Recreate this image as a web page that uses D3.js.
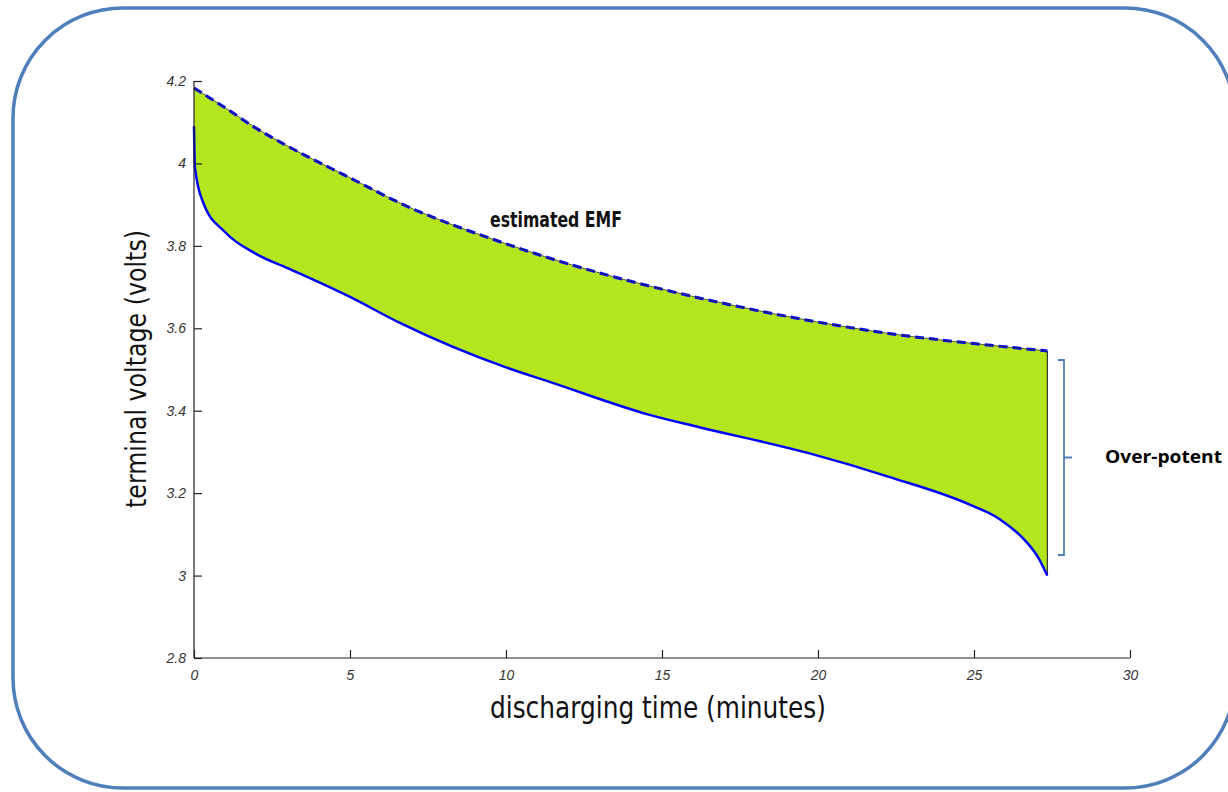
<!DOCTYPE html>
<html>
<head>
  <script src="https://cdnjs.cloudflare.com/ajax/libs/d3/7.8.5/d3.min.js"></script>
  <style>
    body { margin: 0; background: #fff; }
    svg { display: block; }
  </style>
</head>
<body>
  <svg id="chart" width="1228" height="792"></svg>
  <script>
// discharge time (minutes) and voltages
var emfTime = [0, 1, 2, 3, 5, 6.6, 10, 12.5, 15, 17.5, 20, 22.5, 25, 27.35];
var emfVolts = [4.183, 4.135, 4.085, 4.042, 3.965, 3.904, 3.805, 3.745, 3.695, 3.652, 3.615, 3.585, 3.563, 3.545];

var termTime = [0, 0.03, 0.3, 1, 2, 3, 5, 6.6, 10, 11.4, 14.6, 16.2, 19.7, 22.3, 24.9, 25.8, 26.7, 27.05, 27.35];
var termVolts = [4.09, 3.99, 3.904, 3.833, 3.78, 3.746, 3.676, 3.613, 3.505, 3.470, 3.39, 3.36, 3.297, 3.239, 3.171, 3.138, 3.08, 3.045, 3.0];

var xTicks = [0, 5, 10, 15, 20, 25, 30];
var yTicks = [2.8, 3, 3.2, 3.4, 3.6, 3.8, 4, 4.2];

var svg = d3.select("#chart");

// rounded frame
svg.append("rect")
  .attr("x", 13).attr("y", 8)
  .attr("width", 1222).attr("height", 780)
  .attr("rx", 110).attr("ry", 110)
  .attr("fill", "none")
  .attr("stroke", "#4f7fbb")
  .attr("stroke-width", 3.5);

var x = d3.scaleLinear().domain([0, 30]).range([194, 1130]);
var y = d3.scaleLinear().domain([2.8, 4.2]).range([658, 81]);

var emf = emfTime.map((t, i) => [t, emfVolts[i]]);
var term = termTime.map((t, i) => [t, termVolts[i]]);

var line = d3.line()
  .x(d => x(d[0]))
  .y(d => y(d[1]))
  .curve(d3.curveMonotoneX);

// filled band between EMF and terminal voltage
var areaPath = line(emf) + "L" + line(term.slice().reverse()).slice(1) + "Z";
svg.append("path")
  .attr("d", areaPath)
  .attr("fill", "#b5e61d");

// right edge of the band
var last = term[term.length - 1];
svg.append("line")
  .attr("x1", x(last[0])).attr("x2", x(last[0]))
  .attr("y1", y(emf[emf.length - 1][1])).attr("y2", y(last[1]))
  .attr("stroke", "#111").attr("stroke-width", 1);

// terminal voltage line
svg.append("path")
  .attr("d", line(term))
  .attr("fill", "none")
  .attr("stroke", "#0000ff")
  .attr("stroke-width", 2.5);

// estimated EMF: blue dashes under a thin dark line
svg.append("path")
  .attr("d", line(emf))
  .attr("fill", "none")
  .attr("stroke", "#0000ff")
  .attr("stroke-width", 3)
  .attr("stroke-dasharray", "9,5");
svg.append("path")
  .attr("d", line(emf))
  .attr("fill", "none")
  .attr("stroke", "#333")
  .attr("stroke-width", 0.8);

// axes
var xAxis = d3.axisBottom(x).tickValues(xTicks).tickSize(-8).tickPadding(11).tickFormat(d3.format("d"));
var yAxis = d3.axisLeft(y).tickValues(yTicks).tickSize(-8).tickPadding(8).tickFormat(d => d3.format("")(+d.toFixed(1)));

var gx = svg.append("g").attr("transform", "translate(0,658)").call(xAxis);
var gy = svg.append("g").attr("transform", "translate(194,0)").call(yAxis);

[gx, gy].forEach(g => {
  g.select(".domain").attr("stroke", "#222").attr("stroke-width", 1.2);
  g.selectAll(".tick line").attr("stroke", "#222").attr("stroke-width", 1.2);
  g.selectAll(".tick text")
    .attr("fill", "#333")
    .attr("font-family", "Liberation Sans, Arial, sans-serif")
    .attr("font-style", "italic")
    .attr("font-size", 14);
});
gx.select(".domain").attr("d", "M194,0H1130");
gy.select(".domain").attr("d", "M0,658V81");
gx.selectAll(".tick text").attr("dy", "0.75em");

// axis titles
svg.append("text")
  .attr("x", 490).attr("y", 718)
  .attr("textLength", 336).attr("lengthAdjust", "spacingAndGlyphs")
  .style("font-family", "DejaVu Sans, sans-serif")
  .style("font-size", "30px")
  .attr("fill", "#111")
  .text("discharging time (minutes)");

svg.append("text")
  .attr("transform", "translate(146,508) rotate(-90)")
  .attr("textLength", 278).attr("lengthAdjust", "spacingAndGlyphs")
  .style("font-family", "DejaVu Sans, sans-serif")
  .style("font-size", "28px")
  .attr("fill", "#111")
  .text("terminal voltage (volts)");

// EMF label
svg.append("text")
  .attr("x", 490).attr("y", 227)
  .attr("textLength", 132).attr("lengthAdjust", "spacingAndGlyphs")
  .style("font-family", "DejaVu Sans, sans-serif")
  .style("font-size", "22px")
  .style("font-weight", "600")
  .attr("fill", "#111")
  .text("estimated EMF");

// brace for over-potential
var bx = 1058, by0 = 360, by1 = 555, bm = (by0 + by1) / 2;
svg.append("path")
  .attr("d", "M" + bx + "," + by0 + "H" + (bx + 6) + "V" + bm + "H" + (bx + 14) +
             "M" + (bx + 6) + "," + bm + "V" + by1 + "H" + bx)
  .attr("fill", "none")
  .attr("stroke", "#4f7fbb")
  .attr("stroke-width", 1.8);

svg.append("text")
  .attr("x", 1105).attr("y", 463)
  .attr("textLength", 117).attr("lengthAdjust", "spacingAndGlyphs")
  .style("font-family", "Open Sans, sans-serif")
  .style("font-weight", "bold")
  .style("font-size", "18px")
  .attr("fill", "#000")
  .text("Over-potent");
  </script>
</body>
</html>
